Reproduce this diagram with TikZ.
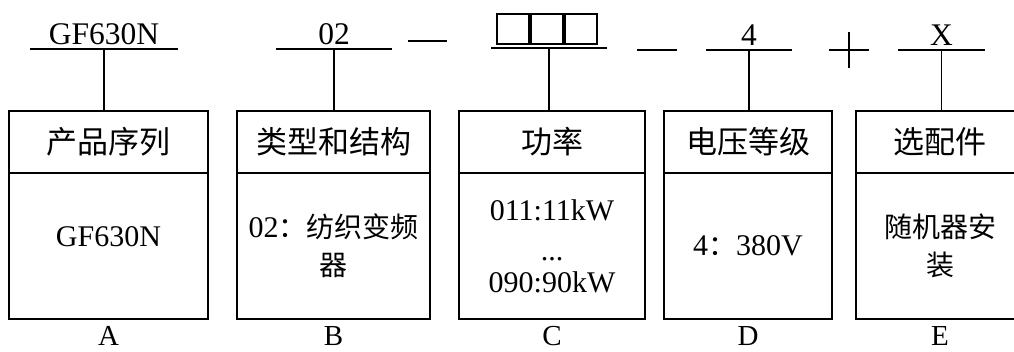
\documentclass[tikz,border=0pt]{standalone}
\usepackage{fontspec}
\setmainfont{Liberation Serif}
\newfontfamily\cjk{Noto Sans CJK SC}
\newcommand\zh[1]{{\fontsize{28}{38}\selectfont\cjk #1}}
\usetikzlibrary{positioning}
\tikzset{
  code/.style={inner xsep=0pt, inner ysep=4pt, outer sep=0pt, anchor=south, font=\fontsize{31.5}{36}\selectfont},
  head/.style={draw, line width=1.6pt, minimum height=62pt, inner sep=0pt, outer sep=0pt, font=\fontsize{31}{36}\selectfont\cjk},
  body/.style={draw, line width=1.6pt, minimum height=146pt, inner sep=0pt, outer sep=0pt, align=center, font=\fontsize{30}{38}\selectfont},
  tag/.style={inner sep=0pt, font=\fontsize{29}{34}\selectfont},
  rule/.style={line width=1.8pt},
  link/.style={line width=1.3pt},
}

\begin{document}
\begin{tikzpicture}[x=1pt, y=1pt]
  \useasboundingbox (0,0) rectangle (1014,352);
  % code line
  \node[code, minimum width=148pt]                    (codeA) at (104.0,303) {GF630N};
  \node[code, minimum width=116pt]                    (codeB) at (334.0,303) {02};
  \node[code, minimum width=116pt, minimum height=34pt] (codeC) at (549.0,304) {};
  \node[code, minimum width=86pt]                     (codeD) at (749.0,302) {4};
  \node[code, minimum width=87pt]                     (codeE) at (941.5,302) {X};
  \foreach \c in {A,B,C,D,E}
    \draw[rule] (code\c.south west) -- (code\c.south east);
  \foreach \i in {0,1,2}
    \draw[link] ([xshift={6+34*\i}, yshift=4]codeC.south west) rectangle ++(32,30);
  \draw[link] (408,311) -- (447,311);
  \draw[link] (637,302) -- (677,302);
  \draw[link] (829,302) -- (869,302) (849,284) -- (849,320);
  % boxes
  \node[head, minimum width=199pt] (headA) at (108.5,210) {产品序列};
  \node[head, minimum width=193pt] (headB) at (333.5,210) {类型和结构};
  \node[head, minimum width=186pt] (headC) at (552.0,210) {功率};
  \node[head, minimum width=168pt] (headD) at (748.0,210) {电压等级};
  \node[head, minimum width=168pt] (headE) at (940.0,210) {选配件};
  \node[body, minimum width=199pt, text depth=18pt, below=0pt of headA] (bodyA) {GF630N};
  \node[body, minimum width=193pt, below=0pt of headB] (bodyB) {02\zh{：纺织变频}\\\zh{器}};
  \node[body, minimum width=186pt, below=0pt of headC] (bodyC) {011:11kW\\[2pt]...\\[-6pt]090:90kW};
  \node[body, minimum width=168pt, below=0pt of headD] (bodyD) {4\zh{：}380V};
  \node[body, minimum width=168pt, below=0pt of headE] (bodyE) {\zh{随机器安}\\\zh{装}};
  % links
  \foreach \c in {A,B,C,D,E}
    \draw[link] (code\c.south) -- (code\c.south |- head\c.north);
  % letters
  \foreach \c in {A,B,C,D,E}
    \node[tag, below=7pt of body\c] (tag\c) {\c};
\end{tikzpicture}
\end{document}
